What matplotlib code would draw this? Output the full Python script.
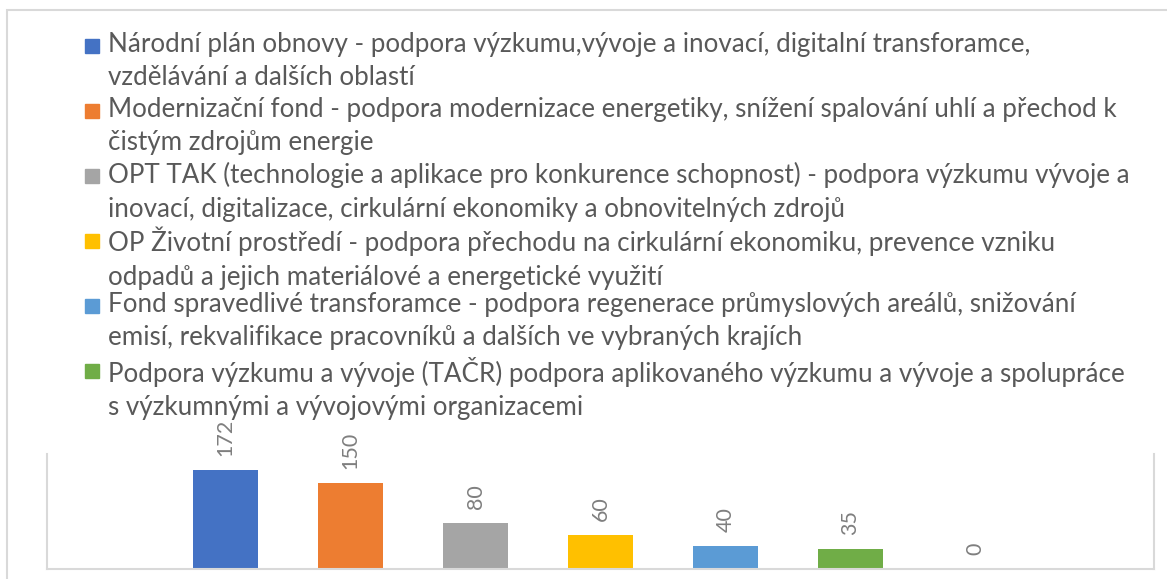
import matplotlib
matplotlib.use("Agg")
import matplotlib.pyplot as plt
from matplotlib.patches import Rectangle

# Legend texts (two lines each) and values
labels = [
    "Národní plán obnovy - podpora výzkumu,vývoje a inovací, digitalní transforamce,\nvzdělávání a dalších oblastí",
    "Modernizační fond - podpora modernizace energetiky, snížení spalování uhlí a přechod k\nčistým zdrojům energie",
    "OPT TAK (technologie a aplikace pro konkurence schopnost) - podpora výzkumu vývoje a\ninovací, digitalizace, cirkulární ekonomiky a obnovitelných zdrojů",
    "OP Životní prostředí - podpora přechodu na cirkulární ekonomiku, prevence vzniku\nodpadů a jejich materiálové a energetické využití",
    "Fond spravedlivé transforamce - podpora regenerace průmyslových areálů, snižování\nemisí, rekvalifikace pracovníků a dalších ve vybraných krajích",
    "Podpora výzkumu a vývoje (TAČR) podpora aplikovaného výzkumu a vývoje a spolupráce\ns výzkumnými a vývojovými organizacemi",
]
values = [172, 150, 80, 60, 40, 35, 0]
colors = ["#4472C4", "#ED7D31", "#A5A5A5", "#FFC000", "#5B9BD5", "#70AD47", "#264478"]

W, H = 1167, 579
fig = plt.figure(figsize=(W / 100, H / 100), dpi=100)

# outer chart border
fig.patches.append(Rectangle((7 / W, -0.1), 1.2, 1 - 10 / H + 0.1, transform=fig.transFigure,
                             fill=False, edgecolor="#D9D9D9", linewidth=1.5))

ax = fig.add_axes([47 / W, 1 - 569 / H, (1154 - 47) / W, (569 - 454) / H])
x = list(range(len(values)))
ax.bar(x, values, width=0.52, color=colors)
ax.set_xlim(-1.43, len(values) - 1 + 1.43)
ax.set_ylim(0, 200)
for xi, v in zip(x, values):
    ax.text(xi, v + 24, str(v), rotation=90, ha="center", va="bottom",
            fontsize=15.5, color="#7F7F7F", family="Lato", clip_on=False)
ax.set_xticks([])
ax.set_yticks([])
for s in ["left", "bottom", "right"]:
    ax.spines[s].set_color("#D9D9D9")
    ax.spines[s].set_linewidth(1.5)
ax.spines["top"].set_visible(False)

# legend drawn by hand so the square lines up with the first text line
for i, lab in enumerate(labels):
    y0 = 46 + i * 65
    fig.patches.append(Rectangle((85 / W, 1 - (y0 + 7) / H), 14 / W, 14 / H,
                                 transform=fig.transFigure, color=colors[i]))
    fig.text(108 / W, 1 - (y0 - 14) / H, lab, ha="left", va="top", fontsize=18.7,
             color="#595959", family="Lato", linespacing=1.42)

fig.savefig("out.png", dpi=100)
